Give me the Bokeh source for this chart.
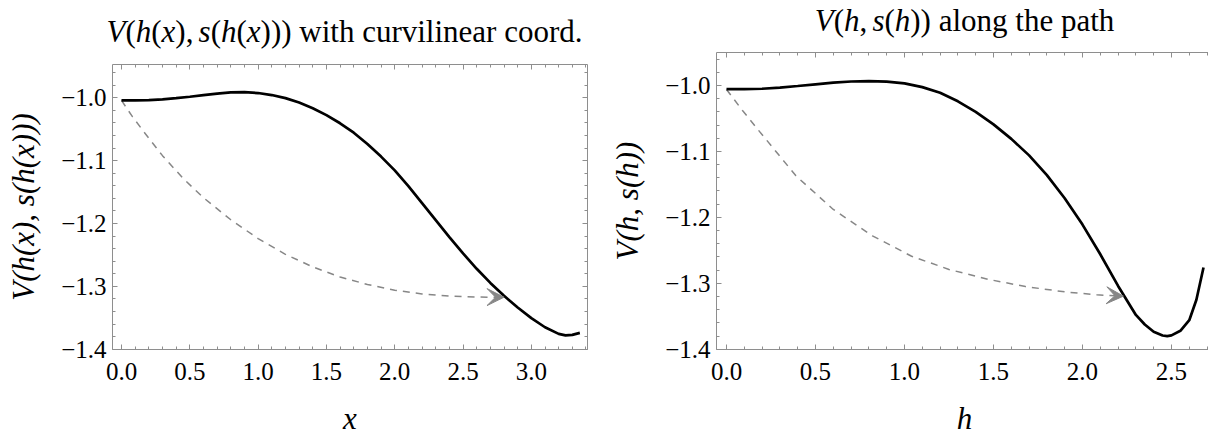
import math
from bokeh.plotting import figure
from bokeh.layouts import row, column
from bokeh.models import (Label, LinearAxis, SingleIntervalTicker, CustomJSTickFormatter,
                          Arrow, VeeHead, Range1d)
from bokeh.embed import file_html
from bokeh.resources import INLINE

# ---------------- data ----------------
# left panel: V(h(x), s(h(x))) against the curvilinear coordinate x
x_left = [0.0, 0.1, 0.2, 0.3, 0.4, 0.5, 0.6, 0.7, 0.8, 0.9, 1.0, 1.1, 1.2, 1.3,
          1.4, 1.5, 1.6, 1.7, 1.8, 1.9, 2.0, 2.1, 2.2, 2.3, 2.4, 2.5, 2.6, 2.7,
          2.8, 2.9, 3.0, 3.1, 3.2, 3.25, 3.3, 3.355]
v_left = [-1.0042, -1.0041, -1.0036, -1.0025, -1.0006, -0.9983, -0.9957, -0.9932,
          -0.9914, -0.9910, -0.9924, -0.9956, -1.0005, -1.0075, -1.0165, -1.0275,
          -1.0405, -1.0555, -1.0735, -1.0935, -1.1155, -1.1405, -1.1675, -1.1945,
          -1.2215, -1.2475, -1.2720, -1.2945, -1.3150, -1.3335, -1.3505, -1.3650,
          -1.3755, -1.3780, -1.3772, -1.3740]
# dashed guide arrow (left)
x_left_path = [0.0, 0.08, 0.16, 0.3, 0.45, 0.6, 0.8, 1.0, 1.2, 1.4, 1.6, 1.8, 2.0,
               2.2, 2.4, 2.6, 2.8]
v_left_path = [-1.0042, -1.030, -1.053, -1.092, -1.128, -1.159, -1.194, -1.224,
               -1.249, -1.269, -1.285, -1.297, -1.306, -1.312, -1.3155, -1.3170,
               -1.3172]

# right panel: V(h, s(h)) along the path
h_right = [0.0, 0.1, 0.2, 0.3, 0.4, 0.5, 0.6, 0.7, 0.8, 0.9, 1.0, 1.1, 1.2, 1.3,
           1.4, 1.5, 1.6, 1.7, 1.8, 1.9, 2.0, 2.1, 2.2, 2.3, 2.35, 2.4, 2.45,
           2.476, 2.5, 2.55, 2.6, 2.64, 2.68]
v_right = [-1.0055, -1.0054, -1.0050, -1.0032, -1.0008, -0.9982, -0.9958, -0.9940,
           -0.9934, -0.9942, -0.9968, -1.0025, -1.0110, -1.0240, -1.0400, -1.0590,
           -1.0810, -1.1060, -1.1360, -1.1710, -1.2110, -1.2560, -1.3040, -1.3480,
           -1.3625, -1.3735, -1.3792, -1.3800, -1.3790, -1.3720, -1.3560, -1.3250,
           -1.2760]
# dashed guide arrow (right)
h_right_path = [0.0, 0.09, 0.18, 0.39, 0.6, 0.82, 1.04, 1.25, 1.47, 1.68, 1.9,
                2.08, 2.23]
v_right_path = [-1.006, -1.038, -1.068, -1.137, -1.188, -1.228, -1.259, -1.279,
                -1.294, -1.305, -1.313, -1.3175, -1.3195]

x_tick_step = 0.5
y_tick_step = 0.1

title_left_math = "V(h(x), s(h(x)))"
title_left_text = "with curvilinear coord."
title_right_math = "V(h, s(h))"
title_right_text = "along the path"
ylabel_left = "V(h(x), s(h(x)))"
ylabel_right = "V(h, s(h))"
xlabel_left = "x"
xlabel_right = "h"

# ---------------- style ----------------
SERIF = "Liberation Serif"
FRAME = "#8e8e8e"
DASH = "#878787"
H = 436
HALF = 604
TXT = 31
MID = 0.3375   # distance from baseline to the middle of the font box, in em

# Liberation Serif (Times-compatible) advance widths, 1/1000 em
W_UP = {' ': 250, 'a': 444, 'c': 444, 'd': 500, 'e': 444, 'g': 500, 'h': 500,
        'i': 278, 'l': 278, 'n': 500, 'o': 500, 'p': 500, 'r': 333, 't': 278,
        'u': 500, 'v': 500, 'w': 722, '.': 250, '(': 333, ')': 333, ',': 250}
W_IT = {'V': 611, 'h': 500, 'x': 444, 's': 389}


def math_runs(s):
    """Split a math string into italic letters and upright punctuation."""
    runs = []
    for c in s:
        if c == ' ':
            runs.append((None, 167))
            continue
        it = c.isalpha()
        if runs and runs[-1][0] is not None and runs[-1][1] == it:
            runs[-1] = (runs[-1][0] + c, it)
        else:
            runs.append((c, it))
    return runs


def run_width(t, it, size):
    table = W_IT if it else W_UP
    return sum(table.get(c, 500) for c in t) * size / 1000.0


def place_runs(p, runs, size, x, baseline):
    widths = []
    for t, it in runs:
        widths.append(it * size / 1000.0 if t is None else run_width(t, it, size))
    off = -sum(widths) / 2.0
    y = baseline + MID * size
    for (t, it), w in zip(runs, widths):
        if t is not None:
            p.add_layout(Label(x=x + off, y=y, text=t,
                               text_font=SERIF, text_font_size=f"{size}px",
                               text_font_style="italic" if it else "normal",
                               text_align="left", text_baseline="middle",
                               text_color="black"))
        off += w


def text_fig(w, h):
    """A blank strip whose frame is its whole area, in pixel units."""
    p = figure(width=w, height=h, x_range=Range1d(0, w), y_range=Range1d(0, h),
               output_backend="svg", toolbar_location=None, title_location=None,
               x_axis_location=None, y_axis_location=None,
               min_border_left=0, min_border_right=0, min_border_top=0,
               min_border_bottom=0)
    p.outline_line_color = None
    p.xgrid.visible = False
    p.ygrid.visible = False
    p.background_fill_color = "white"
    p.border_fill_color = "white"
    return p


FMT = "return (tick < -1e-9 ? '\u2212' : '') + Math.abs(tick).toFixed(1);"


def frame_axis(p, side, step, labels, axis_label=None):
    ax = LinearAxis(ticker=SingleIntervalTicker(interval=step, num_minor_ticks=5))
    ax.axis_line_color = FRAME
    ax.axis_line_width = 1
    ax.major_tick_line_color = FRAME
    ax.minor_tick_line_color = FRAME
    ax.major_tick_in = 5
    ax.major_tick_out = 0
    ax.minor_tick_in = 3
    ax.minor_tick_out = 0
    if labels:
        ax.formatter = CustomJSTickFormatter(code=FMT)
        ax.major_label_text_font = SERIF
        ax.major_label_text_font_size = "25px"
        ax.major_label_text_color = "black"
        ax.major_label_standoff = 6 if side == "left" else 13
    else:
        ax.formatter = CustomJSTickFormatter(code="return '';")
        ax.major_label_text_font_size = "0px"
        ax.major_label_standoff = 0
    if axis_label is not None:
        ax.axis_label = axis_label
        ax.axis_label_text_font = SERIF
        ax.axis_label_text_font_style = "italic"
        ax.axis_label_text_font_size = f"{TXT}px"
        ax.axis_label_text_color = "black"
        ax.axis_label_standoff = 17
    p.add_layout(ax, side)


def panel(xs, vs, xp, vp, height, br, bt, bb, xr, yr, right_axis, ylab):
    p = figure(width=HALF, height=height, x_range=Range1d(*xr), y_range=Range1d(*yr),
               output_backend="svg", toolbar_location=None, title_location=None,
               x_axis_location=None, y_axis_location=None,
               min_border_left=112, min_border_right=br, min_border_top=bt,
               min_border_bottom=bb)
    p.outline_line_color = None
    p.xgrid.visible = False
    p.ygrid.visible = False
    p.background_fill_color = "white"
    p.border_fill_color = "white"
    frame_axis(p, "left", y_tick_step, True, ylab)
    frame_axis(p, "below", x_tick_step, True)
    frame_axis(p, "above", x_tick_step, False)
    if right_axis:
        frame_axis(p, "right", y_tick_step, False)
    p.line(xp, vp, line_color=DASH, line_width=1.5, line_dash="7 6")
    p.add_layout(Arrow(end=VeeHead(size=17, fill_color=DASH, line_color=DASH,
                                   line_width=1),
                       x_start=xp[-2], y_start=vp[-2], x_end=xp[-1], y_end=vp[-1],
                       line_color=None))
    p.line(xs, vs, line_color="black", line_width=2.7)
    return p


XLH = 36      # height of the x-label strip
BOT = 51      # room for tick labels under the frame


def half(xs, vs, xp, vp, title_h, frame_top, frame_right, xr, yr, right_axis,
         tmath, ttext, t_cx, t_base, ylab, xlab, xl_cx):
    main_h = H - title_h - XLH
    p = panel(xs, vs, xp, vp, main_h, HALF - frame_right, frame_top - title_h, BOT,
              xr, yr, right_axis, ylab)
    tf = text_fig(HALF, title_h)
    place_runs(tf, math_runs(tmath) + [(None, 250), (ttext, False)], TXT,
               t_cx, title_h - t_base)
    xf = text_fig(HALF, XLH)
    place_runs(xf, math_runs(xlab), TXT, xl_cx, H - 428.5)
    # wrap each child so that Bokeh does not align the strips' frames
    # with the plot frame
    return column(row(tf), row(p), row(xf), spacing=0)


left = half(x_left, v_left, x_left_path, v_left_path, 52, 64, 587,
            (-0.0659, 3.411), (-1.4004, -0.947), True,
            title_left_math, title_left_text, 344, 41, ylabel_left, xlabel_left,
            349.5)
right = half(h_right, v_right, h_right_path, v_right_path, 45, 52, HALF,
             (-0.0562, 2.708), (-1.4004, -0.95), False,
             title_right_math, title_right_text, 360, 30, ylabel_right,
             xlabel_right, 360)

layout = row(left, right, spacing=0)
open("out.html", "w").write(file_html(layout, INLINE))
